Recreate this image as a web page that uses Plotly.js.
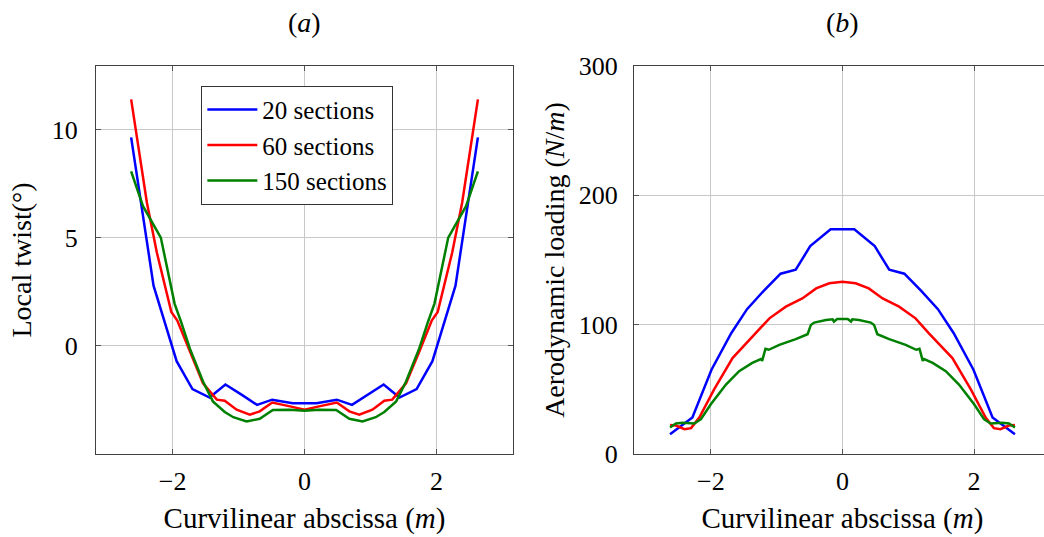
<!DOCTYPE html>
<html>
<head>
<meta charset="utf-8">
<script src="https://cdn.plot.ly/plotly-3.0.1.min.js"></script>
<style>
  html, body { margin: 0; padding: 0; overflow: hidden; background: #ffffff; }
  #chart { width: 1060px; height: 537px; }
</style>
</head>
<body>
<div id="chart"></div>
<script>
// ---- Data ----
const seriesNames = ["20 sections", "60 sections", "150 sections"];

// (a) Local twist (deg) vs curvilinear abscissa (m)
const twistX20 = [-2.63, -2.29, -1.94, -1.70, -1.44, -1.20, -0.95, -0.72, -0.49, -0.18,
                   0.18, 0.49, 0.72, 0.95, 1.20, 1.44, 1.70, 1.94, 2.29, 2.63];
const twistY20 = [9.63, 2.78, -0.71, -2.00, -2.39, -1.79, -2.27, -2.73, -2.49, -2.65,
                  -2.65, -2.49, -2.73, -2.27, -1.79, -2.39, -2.00, -0.71, 2.78, 9.63];

const twistX60 = [-2.63, -2.39, -2.24, -2.02, -1.93, -1.74, -1.54, -1.33, -1.21, -1.03, -0.83, -0.68, -0.49, -0.22, 0,
                   0.22, 0.49, 0.68, 0.83, 1.03, 1.21, 1.33, 1.54, 1.74, 1.93, 2.02, 2.24, 2.39, 2.63];
const twistY60 = [11.39, 6.60, 4.31, 1.56, 1.17, -0.28, -1.73, -2.49, -2.54, -2.95, -3.18, -3.03, -2.62, -2.80, -2.95,
                  -2.80, -2.62, -3.03, -3.18, -2.95, -2.54, -2.49, -1.73, -0.28, 1.17, 1.56, 4.31, 6.60, 11.39];

const twistX150 = [-2.63, -2.45, -2.18, -1.97, -1.88, -1.74, -1.54, -1.39, -1.21, -1.08, -0.88, -0.68, -0.48, -0.22, 0,
                    0.22, 0.48, 0.68, 0.88, 1.08, 1.21, 1.39, 1.54, 1.74, 1.88, 1.97, 2.18, 2.45, 2.63];
const twistY150 = [8.06, 6.45, 5.00, 1.94, 1.17, -0.12, -1.65, -2.57, -3.06, -3.30, -3.50, -3.37, -2.97, -2.95, -3.00,
                   -2.95, -2.97, -3.37, -3.50, -3.30, -3.06, -2.57, -1.65, -0.12, 1.17, 1.94, 5.00, 6.45, 8.06];

// (b) Aerodynamic loading (N/m) vs curvilinear abscissa (m)
const loadX20 = [-2.62, -2.28, -1.99, -1.69, -1.45, -1.20, -0.94, -0.71, -0.49, -0.18,
                  0.18, 0.49, 0.71, 0.94, 1.20, 1.45, 1.69, 1.99, 2.28, 2.62];
const loadY20 = [15.3, 28.2, 65.2, 93.4, 112.0, 126.0, 139.4, 142.5, 160.7, 173.7,
                 173.7, 160.7, 142.5, 139.4, 126.0, 112.0, 93.4, 65.2, 28.2, 15.3];

const loadX60 = [-2.62, -2.53, -2.40, -2.30, -2.175, -1.95, -1.67, -1.31, -1.11, -0.86, -0.61, -0.40, -0.20, 0,
                  0.20, 0.40, 0.61, 0.86, 1.11, 1.31, 1.67, 1.95, 2.175, 2.30, 2.40, 2.53, 2.62];
const loadY60 = [22.5, 22.0, 19.2, 20.0, 28.2, 49.9, 74.2, 93.4, 104.9, 113.9, 120.3, 128.0, 132.0, 133.1,
                 132.0, 128.0, 120.3, 113.9, 104.9, 93.4, 74.2, 49.9, 28.2, 20.0, 19.2, 22.0, 22.5];

const loadX150 = [-2.62, -2.53, -2.43, -2.25, -2.15, -2.00, -1.77, -1.57, -1.37, -1.24, -1.22, -1.17, -1.12, -0.96, -0.71,
                  -0.53, -0.48, -0.43, -0.25, -0.15, -0.13, -0.08, 0,
                   0.08, 0.13, 0.15, 0.25, 0.43, 0.48, 0.53, 0.71, 0.96, 1.12, 1.17, 1.22, 1.24, 1.37, 1.57, 1.77,
                   2.00, 2.15, 2.25, 2.43, 2.53, 2.62];
const loadY150 = [20.5, 23.6, 24.1, 23.6, 26.9, 38.4, 53.7, 64.0, 70.4, 73.4, 72.0, 81.4, 80.6, 84.4, 88.8,
                  92.6, 99.8, 101.6, 103.6, 104.1, 102.4, 104.4, 104.4,
                  104.4, 102.4, 104.1, 103.6, 101.6, 99.8, 92.6, 88.8, 84.4, 80.6, 81.4, 72.0, 73.4, 70.4, 64.0, 53.7,
                  38.4, 26.9, 23.6, 24.1, 23.6, 20.5];

const xTicks = [-2, 0, 2];
const twistTicks = [0, 5, 10];
const loadTicks = [0, 100, 200, 300];

// ---- Styling ----
const colors = ["#0000ff", "#ff0000", "#008000"];
const LW = 2.5;
const FONT = "Liberation Serif";
const XT = 29;
const YT = 28;
const TICK = 26;

function tr(x, y, i, xa, ya, showLegend) {
  return { x: x, y: y, type: "scatter", mode: "lines", name: seriesNames[i],
           line: { color: colors[i], width: LW }, xaxis: xa, yaxis: ya,
           showlegend: showLegend, legendgroup: seriesNames[i] };
}

const data = [
  tr(twistX20, twistY20, 0, "x", "y", true),
  tr(twistX60, twistY60, 1, "x", "y", true),
  tr(twistX150, twistY150, 2, "x", "y", true),
  tr(loadX20, loadY20, 0, "x2", "y2", false),
  tr(loadX60, loadY60, 1, "x2", "y2", false),
  tr(loadX150, loadY150, 2, "x2", "y2", false)
];

const axisBase = {
  showline: true, linecolor: "#404040", linewidth: 1, mirror: "ticks",
  ticks: "inside", ticklen: 5, tickcolor: "#555555", tickwidth: 1,
  showgrid: true, gridcolor: "#c8c8c8", gridwidth: 1, zeroline: false,
  tickfont: { family: FONT, size: TICK, color: "#000" },
  automargin: true
};

const xTitle = { text: "Curvilinear abscissa (<i>m</i>)", font: { family: FONT, size: XT, color: "#000" }, standoff: 12 };

const layout = {
  width: 1060, height: 537,
  margin: { l: 96, r: 8, t: 66, b: 80 },
  paper_bgcolor: "#ffffff", plot_bgcolor: "#ffffff",
  font: { family: FONT, size: YT, color: "#000" },
  xaxis: Object.assign({}, axisBase, { domain: [0, 0.4367], range: [-3.163, 3.163], tickvals: xTicks,
    ticklabelstandoff: 4, title: xTitle, anchor: "y" }),
  yaxis: Object.assign({}, axisBase, { range: [-5.0, 12.93], tickvals: twistTicks, ticklabelstandoff: 12,
    title: { text: "Local twist(°)", font: { family: FONT, size: YT, color: "#000" }, standoff: 11 }, anchor: "x" }),
  xaxis2: Object.assign({}, axisBase, { domain: [0.5633, 1], range: [-3.168, 3.168], tickvals: xTicks,
    ticklabelstandoff: 4, title: xTitle, anchor: "y2" }),
  yaxis2: Object.assign({}, axisBase, { range: [0, 300], tickvals: loadTicks, ticklabelstandoff: 10,
    title: { text: "Aerodynamic loading (<i>N</i>/<i>m</i>)", font: { family: FONT, size: YT, color: "#000" }, standoff: 5 },
    anchor: "x2" }),
  legend: {
    x: 0.1103, y: 0.9488, xanchor: "left", yanchor: "top",
    bgcolor: "#ffffff", bordercolor: "#333333", borderwidth: 1,
    font: { family: FONT, size: 25, color: "#000" },
    itemwidth: 50, tracegroupgap: 0
  },
  annotations: [
    { text: "(<i>a</i>)", xref: "paper", yref: "paper", x: 0.2183, y: 1.1125, xanchor: "center", yanchor: "middle",
      showarrow: false, font: { family: FONT, size: YT, color: "#000" } },
    { text: "(<i>b</i>)", xref: "paper", yref: "paper", x: 0.7817, y: 1.1125, xanchor: "center", yanchor: "middle",
      showarrow: false, font: { family: FONT, size: YT, color: "#000" } }
  ],
  showlegend: true
};

Plotly.newPlot("chart", data, layout, { displayModeBar: false, staticPlot: true });
</script>
</body>
</html>
